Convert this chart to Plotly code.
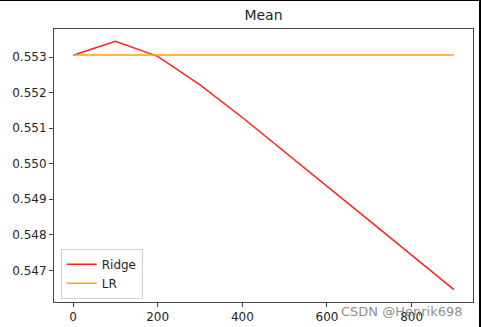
import plotly.graph_objects as go

alphas = [0, 100, 200, 300, 400, 500, 600, 700, 800, 900]
ridge_mean = [0.55305, 0.55344, 0.55302, 0.55222, 0.55130, 0.55034, 0.54937, 0.54840, 0.54743, 0.54646]
lr_mean = [0.55306] * len(alphas)
y_ticks = [0.547, 0.548, 0.549, 0.550, 0.551, 0.552, 0.553]
x_ticks = [0, 200, 400, 600, 800]

fig = go.Figure()
fig.add_trace(go.Scatter(x=alphas, y=ridge_mean, mode="lines", name="Ridge",
                         line=dict(color="#ff2020", width=1.5)))
fig.add_trace(go.Scatter(x=alphas, y=lr_mean, mode="lines", name="LR",
                         line=dict(color="#ffa500", width=1.5)))

axis_common = dict(showgrid=False, zeroline=False, showline=True, mirror=True,
                   linecolor="#444", linewidth=1, ticks="outside", ticklen=4,
                   tickcolor="#444", automargin=False,
                   tickfont=dict(family="DejaVu Sans", size=12, color="#262626"))

fig.update_layout(
    width=481, height=327,
    margin=dict(l=54, r=8, t=29, b=25),
    paper_bgcolor="white", plot_bgcolor="white",
    title=dict(text="Mean", x=(54 + 473) / 2 / 481, xanchor="center", y=1 - 15 / 327, yanchor="middle",
               font=dict(family="DejaVu Sans", size=14, color="#262626"), automargin=False),
    xaxis=dict(range=[-45, 945], tickvals=x_ticks, **axis_common),
    yaxis=dict(range=[0.546111, 0.553789], tickvals=y_ticks, tickformat=".3f", **axis_common),
    legend=dict(x=0.016, y=0.012, xanchor="left", yanchor="bottom",
                bordercolor="#d0d0d0", borderwidth=1, bgcolor="rgba(255,255,255,0.8)",
                font=dict(family="DejaVu Sans", size=12, color="#262626"),
                tracegroupgap=0),
    showlegend=True,
)

fig.add_annotation(text="CSDN @Henrik698", xref="paper", yref="paper",
                   x=(402 - 54) / 419, y=-(311.5 - 302) / 273,
                   xanchor="center", yanchor="middle", showarrow=False,
                   font=dict(family="DejaVu Sans", size=13, color="rgba(120,120,120,0.85)"))

# screenshot border artifacts
fig.add_shape(type="rect", xref="paper", yref="paper", x0=-54/419, x1=(481-54)/419,
              y0=1 + 28/273, y1=1 + 29/273, line=dict(width=0), fillcolor="black")
fig.add_shape(type="rect", xref="paper", yref="paper", x0=(479-54)/419, x1=(481-54)/419,
              y0=-25/273, y1=1 + 29/273, line=dict(width=0), fillcolor="black")

fig.write_html("out.html")
